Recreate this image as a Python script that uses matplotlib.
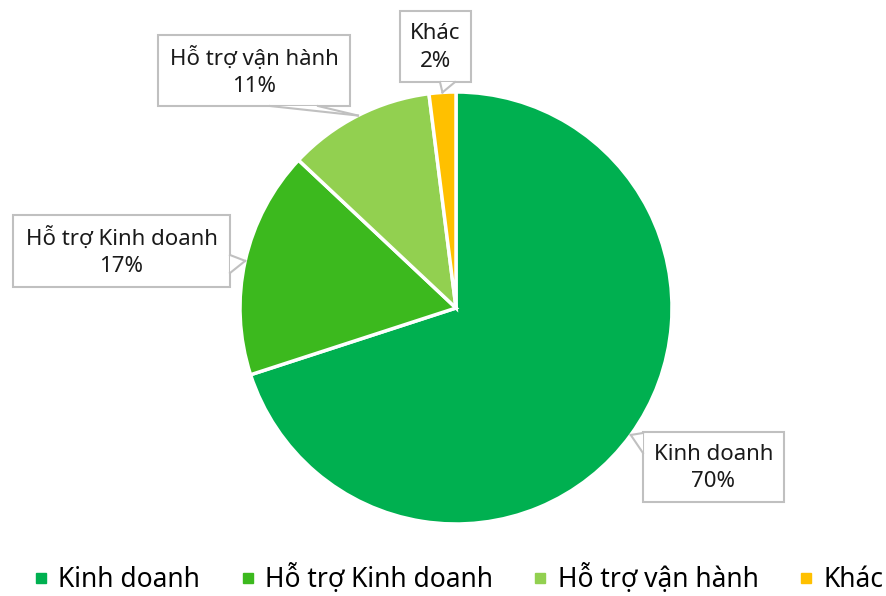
import numpy as np
import matplotlib.pyplot as plt
from matplotlib.lines import Line2D
from matplotlib.patches import Rectangle, Polygon

labels = ['Kinh doanh', 'Hỗ trợ Kinh doanh', 'Hỗ trợ vận hành', 'Khác']
shares = [70, 17, 11, 2]
colors = ['#00B050', '#3CB91E', '#92D050', '#FFC000']

# callout boxes: left, top, width, height in figure pixels (from top-left)
boxes = [(643, 432, 141, 70), (13, 215, 217, 72), (158, 35, 192, 71), (400, 11, 71, 71)]
# tail base on the box edge: side, start, end (pixels along that edge)
tails = [('left', 433, 453), ('right', 255, 273), ('bottom', 270, 318), ('bottom', 440, 455)]

W, H = 887, 596
plt.rcParams['font.family'] = ['Noto Sans', 'DejaVu Sans']
fig = plt.figure(figsize=(W / 100, H / 100), dpi=100)
cx, cy, r = 456, 308, 216
ax = fig.add_axes([(cx - r) / W, (H - cy - r) / H, 2 * r / W, 2 * r / H])
wedges, _ = ax.pie(shares, colors=colors, startangle=90, counterclock=False, radius=1,
                   wedgeprops=dict(edgecolor='white', linewidth=2.5))
ax.set_xlim(-1, 1)
ax.set_ylim(-1, 1)
ax.axis('off')

def fp(x, y):
    return (x / W, 1 - y / H)

grey = '#c0c0c0'
for w, lab, s, (bl, bt, bw, bh), (side, t0, t1) in zip(wedges, labels, shares, boxes, tails):
    ang = np.deg2rad((w.theta1 + w.theta2) / 2)
    tip = (cx + r * np.cos(ang), cy - r * np.sin(ang))
    if side == 'left':
        b0, b1 = (bl, t0), (bl, t1)
    elif side == 'right':
        b0, b1 = (bl + bw, t0), (bl + bw, t1)
    else:
        b0, b1 = (t0, bt + bh), (t1, bt + bh)
    fig.add_artist(Rectangle(fp(bl, bt + bh), bw / W, bh / H, transform=fig.transFigure,
                             fc='white', ec=grey, lw=1.5, zorder=5))
    fig.add_artist(Polygon([fp(*b0), fp(*tip), fp(*b1)], closed=True, transform=fig.transFigure,
                           fc='white', ec='none', lw=0, zorder=6))
    for b in (b0, b1):
        fig.add_artist(Line2D([fp(*b)[0], fp(*tip)[0]], [fp(*b)[1], fp(*tip)[1]],
                              transform=fig.transFigure, color=grey, lw=1.5, zorder=7))
    fig.text(*fp(bl + bw / 2, bt + bh / 2 + 1), "%s\n%d%%" % (lab, s), ha='center', va='center',
             fontsize=16, color='#1a1a1a', linespacing=1.4, zorder=8)

handles = [Line2D([], [], marker='s', ls='', color=c, markersize=7.5) for c in colors]
fig.legend(handles, labels, loc='center', ncol=4, frameon=False, fontsize=19,
           bbox_to_anchor=(0.518, 1 - 579 / H), handletextpad=0.45, columnspacing=1.6,
           handlelength=0.4, borderpad=0, borderaxespad=0)

plt.savefig('out.png', dpi=100)
